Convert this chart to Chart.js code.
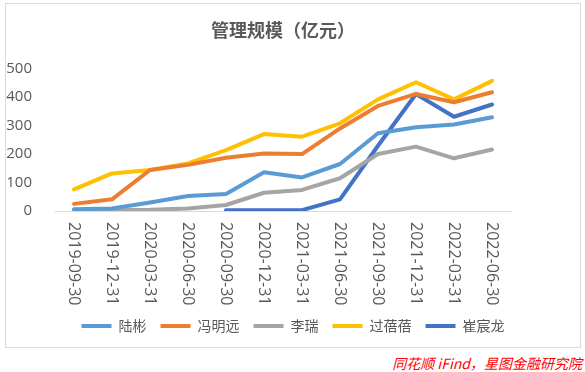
<!DOCTYPE html>
<html>
<head>
<meta charset="utf-8">
<script src="https://cdn.jsdelivr.net/npm/chart.js@4/dist/chart.umd.min.js"></script>
<style>
    body { margin: 0; background: #fff; width: 585px; height: 372px; position: relative; overflow: hidden; }
    #box { position: absolute; left: 5px; top: 3px; width: 574px; height: 343px; border: 1px solid #d9d9d9; }
    #source { position: absolute; right: 3px; top: 353px; color: #ff0000; font-style: italic; font-size: 14px;
        line-height: 20px; font-family: "Noto Sans CJK SC", sans-serif; }
</style>
</head>
<body>
<div id="box"><canvas id="scaleChart"></canvas></div>
<div id="source">同花顺 iFind，星图金融研究院</div>
<script>
const dates = ['2019-09-30', '2019-12-31', '2020-03-31', '2020-06-30', '2020-09-30', '2020-12-31',
    '2021-03-31', '2021-06-30', '2021-09-30', '2021-12-31', '2022-03-31', '2022-06-30'];
const yTicks = [0, 100, 200, 300, 400, 500];
const luBin = [6, 9, 30, 53, 60, 136, 118, 165, 273, 294, 304, 329];
const fengMingyuan = [25, 41, 144, 162, 187, 202, 200, 290, 369, 411, 382, 417];
const liRui = [3, 3, 4, 9, 21, 64, 74, 115, 200, 226, 185, 216];
const guoBeibei = [76, 132, 144, 167, 214, 270, 261, 308, 392, 452, 392, 457];
const cuiChenlong = [null, null, null, null, 3, 3, 3, 41, 229, 411, 331, 374];

const textColor = '#595959';
const cjkFont = '"Noto Sans CJK SC", sans-serif';
const numFont = '"Open Sans", "Noto Sans CJK SC", sans-serif';

function line(label, data, color) {
    return {
        label: label,
        data: data,
        borderColor: color,
        backgroundColor: color,
        borderWidth: 4,
        borderCapStyle: 'round',
        borderJoinStyle: 'round',
        pointRadius: 0,
        tension: 0
    };
}

// x labels read top-to-bottom, which chart.js ticks can't do
const verticalLabels = {
    id: 'verticalLabels',
    afterDraw(chart) {
        const xs = chart.scales.x;
        const ctx = chart.ctx;
        ctx.save();
        ctx.fillStyle = textColor;
        ctx.font = '16px ' + numFont;
        ctx.textAlign = 'left';
        ctx.textBaseline = 'middle';
        dates.forEach((d, i) => {
            ctx.save();
            ctx.translate(xs.getPixelForValue(i), xs.top + 11);
            ctx.rotate(Math.PI / 2);
            ctx.fillText(d, 0, 0);
            ctx.restore();
        });
        ctx.restore();
    }
};

const ctx = document.getElementById('scaleChart');
new Chart(ctx, {
    type: 'line',
    data: {
        labels: dates,
        datasets: [
            line('陆彬', luBin, '#5b9bd5'),
            line('冯明远', fengMingyuan, '#ed7d31'),
            line('李瑞', liRui, '#a5a5a5'),
            line('过蓓蓓', guoBeibei, '#ffc000'),
            line('崔宸龙', cuiChenlong, '#4472c4')
        ]
    },
    options: {
        responsive: true,
        maintainAspectRatio: false,
        animation: false,
        layout: {
            padding: { left: 0, right: 0, top: 0, bottom: 4 }
        },
        scales: {
            x: {
                offset: true,
                grid: { display: false },
                border: { display: true, color: '#d9d9d9', width: 1 },
                ticks: {
                    color: 'rgba(0,0,0,0)',
                    font: { size: 16, family: numFont },
                    minRotation: 90,
                    maxRotation: 90,
                    padding: 11
                },
                afterFit: axis => { axis.height = 94; }
            },
            y: {
                min: 0,
                max: 500,
                afterBuildTicks: axis => { axis.ticks = yTicks.map(v => ({ value: v })); },
                afterFit: axis => { axis.width = 49; },
                grid: { display: false },
                border: { display: false },
                ticks: {
                    color: textColor,
                    font: { size: 15, family: numFont },
                    padding: 15
                }
            },
            // empty space on the right of the plot
            spacer: {
                type: 'linear',
                position: 'right',
                display: true,
                grid: { display: false },
                border: { display: false },
                ticks: { display: false },
                afterFit: axis => { axis.width = 69; }
            }
        },
        plugins: {
            title: {
                display: true,
                fullSize: false,
                text: '管理规模（亿元）',
                color: textColor,
                font: { size: 18, weight: 'bold', family: cjkFont },
                padding: { top: 15, bottom: 28 }
            },
            legend: {
                position: 'bottom',
                labels: {
                    color: textColor,
                    font: { size: 14, family: cjkFont },
                    usePointStyle: true,
                    pointStyle: 'line',
                    pointStyleWidth: 30,
                    padding: 14
                }
            },
            tooltip: { enabled: false }
        }
    },
    plugins: [verticalLabels]
});
</script>
</body>
</html>
